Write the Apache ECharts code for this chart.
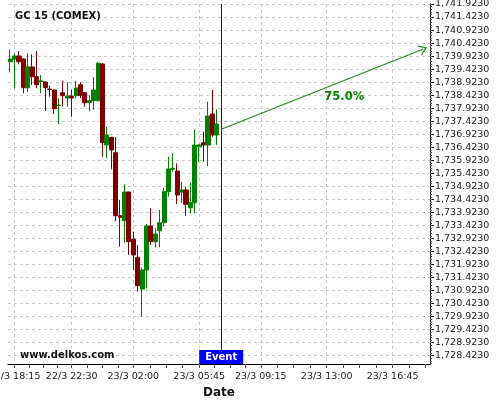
<!DOCTYPE html>
<html><head><meta charset="utf-8">
<script src="https://cdn.jsdelivr.net/npm/echarts@6/dist/echarts.min.js"></script>
<style>html,body{margin:0;padding:0;background:#fff}#c{width:500px;height:400px}</style>
</head><body><div id="c"></div>
<script>
// ---- data ----
const categories = [
'22/3 18:00','22/3 18:15','22/3 18:30','22/3 18:45','22/3 19:00','22/3 19:15','22/3 19:30','22/3 19:45',
'22/3 20:00','22/3 20:15','22/3 20:30','22/3 20:45','22/3 22:00','22/3 22:15','22/3 22:30','22/3 22:45',
'22/3 23:00','22/3 23:15','22/3 23:30','22/3 23:45','23/3 00:00','23/3 00:15','23/3 00:30','23/3 00:45',
'23/3 01:00','23/3 01:15','23/3 01:30','23/3 01:45','23/3 02:00','23/3 02:15','23/3 02:30','23/3 02:45',
'23/3 03:00','23/3 03:15','23/3 03:30','23/3 03:45','23/3 04:00','23/3 04:15','23/3 04:30','23/3 04:45',
'23/3 05:00','23/3 05:15','23/3 05:30','23/3 05:45','23/3 06:00','23/3 06:15','23/3 06:30','23/3 06:45',
'23/3 07:00','23/3 07:15','23/3 07:30','23/3 07:45','23/3 08:00','23/3 08:15','23/3 08:30','23/3 08:45',
'23/3 09:00','23/3 09:15','23/3 09:30','23/3 09:45','23/3 10:00','23/3 10:15','23/3 10:30','23/3 10:45',
'23/3 11:00','23/3 11:15','23/3 11:30','23/3 11:45','23/3 12:00','23/3 12:15','23/3 12:30','23/3 12:45',
'23/3 13:00','23/3 13:15','23/3 13:30','23/3 13:45','23/3 14:00','23/3 14:15','23/3 14:30','23/3 14:45',
'23/3 15:00','23/3 15:15','23/3 15:30','23/3 15:45','23/3 16:00','23/3 16:15','23/3 16:30','23/3 16:45',
'23/3 17:00','23/3 17:15','23/3 17:30','23/3 17:45','23/3 18:00','23/3 18:15','23/3 18:30','23/3 18:45'
];
// [open, close, low, high]
const candles = [
[1739.708,1739.812,1739.301,1740.184],
[1739.812,1739.927,1738.687,1740.030],
[1739.927,1739.708,1739.608,1740.119],
[1739.812,1738.710,1738.495,1739.850],
[1738.710,1739.510,1738.550,1740.030],
[1739.505,1739.132,1738.814,1739.992],
[1739.132,1738.825,1738.687,1740.119],
[1738.948,1738.967,1738.495,1739.197],
[1738.929,1738.710,1737.816,1738.940],
[1738.660,1738.641,1738.365,1738.787],
[1738.622,1737.904,1737.700,1738.640],
[1738.027,1738.046,1737.316,1738.303],
[1738.518,1738.403,1737.981,1738.979],
[1738.315,1738.391,1737.981,1738.917],
[1738.391,1738.315,1737.597,1738.622],
[1738.403,1738.698,1738.303,1738.979],
[1738.825,1738.418,1738.303,1738.917],
[1738.518,1738.134,1737.981,1738.530],
[1738.134,1738.211,1737.804,1738.418],
[1738.211,1738.622,1737.865,1739.121],
[1738.211,1739.647,1738.180,1739.708],
[1739.620,1736.600,1736.060,1739.660],
[1736.510,1736.894,1735.999,1737.213],
[1736.806,1736.318,1735.577,1736.820],
[1736.215,1733.796,1733.581,1736.806],
[1733.796,1733.735,1732.606,1734.399],
[1733.604,1734.706,1732.760,1735.001],
[1734.706,1732.798,1732.288,1734.720],
[1732.891,1732.288,1731.712,1733.182],
[1732.199,1731.109,1730.879,1732.670],
[1730.982,1731.712,1729.919,1731.800],
[1731.712,1733.401,1731.009,1733.478],
[1733.401,1732.798,1732.670,1734.080],
[1732.798,1733.094,1732.583,1733.312],
[1733.220,1733.528,1732.583,1734.015],
[1733.528,1734.718,1733.374,1734.860],
[1734.718,1735.588,1734.526,1736.061],
[1735.578,1735.616,1735.485,1736.190],
[1735.512,1734.591,1734.246,1735.808],
[1734.706,1734.783,1734.284,1735.100],
[1734.783,1734.234,1733.785,1734.910],
[1734.103,1734.295,1733.888,1735.063],
[1734.295,1736.510,1733.888,1737.113],
[1736.446,1736.510,1735.870,1736.550],
[1736.599,1736.510,1735.870,1737.021],
[1736.510,1737.624,1735.704,1738.173],
[1737.701,1736.894,1736.829,1738.622],
[1736.894,1737.316,1736.510,1737.881]
];
const xLabelIdx = [1,14,28,43,57,72,87];
const yTickLabels = [1728.423,1728.923,1729.423,1729.923,1730.423,1730.923,1731.423,1731.923,
1732.423,1732.923,1733.423,1733.923,1734.423,1734.923,1735.423,1735.923,1736.423,1736.923,
1737.423,1737.923,1738.423,1738.923,1739.423,1739.923,1740.423,1740.923,1741.423,1741.923];
const yMin = 1728.103, yMax = 1741.923;
const eventIdx = 48;
const eventBoxValue = 1728.372;
const forecastStart = [48, 1737.113];
const forecastEnd = [94, 1740.196];
const forecastText = '75.0%';
const forecastTextPos = [76, 1738.353];

// ---- decoration helpers (axis tick positions only) ----
const xMinor = [];
for (let i = 0; i < xLabelIdx.length - 1; i++) {
  const a = xLabelIdx[i], b = xLabelIdx[i+1];
  for (let k = 1; k < 4; k++) xMinor.push(a + (b - a) * k / 4);
}
xMinor.push(87 + 3.75, 87 + 7.5);
const yMinor = [];
for (let v = 1728.123; v <= yMax + 1e-6; v += 0.1) yMinor.push(+v.toFixed(3));

function fmt(v) {
  const s = Number(v).toFixed(4);
  const p = s.split('.');
  return p[0].replace(/\B(?=(\d{3})+(?!\d))/g, ',') + '.' + p[1];
}
const FF = 'DejaVu Sans';
const gridBox = {left: 8, right: 70, top: 4, bottom: 36, containLabel: false, outerBoundsMode: 'none'};
const dash = {color: '#c8c8c8', width: 1, type: [3, 3]};
const noZero = {show: false, onZero: false};

const chart = echarts.init(document.getElementById('c'), null, {renderer: 'canvas'});
chart.setOption({
  animation: false,
  backgroundColor: '#fff',
  title: [
    {text: 'GC 15 (COMEX)', left: 10, top: 6, textStyle: {fontFamily: FF, fontSize: 10, fontWeight: 'bold', color: '#111'}},
    {text: 'www.delkos.com', left: 15, top: 345, textStyle: {fontFamily: FF, fontSize: 10, fontWeight: 'bold', color: '#111'}}
  ],
  grid: [Object.assign({}, gridBox), Object.assign({}, gridBox), Object.assign({}, gridBox)],
  xAxis: [
    {type: 'category', gridIndex: 0, data: categories, boundaryGap: true,
     axisLine: {show: true, onZero: false, lineStyle: {color: '#000', width: 1}},
     axisTick: {show: false}, splitLine: {show: false},
     axisLabel: {show: true, interval: (i) => xLabelIdx.includes(i), margin: 8,
       fontFamily: FF, fontSize: 9.5, color: '#222'},
     name: 'Date', nameLocation: 'middle', nameGap: 18,
     nameTextStyle: {fontFamily: FF, fontSize: 12, fontWeight: 'bold', color: '#111'}},
    {type: 'value', gridIndex: 1, min: -0.5, max: categories.length - 0.5, position: 'bottom',
     axisLine: noZero, axisLabel: {show: false},
     axisTick: {show: true, customValues: xLabelIdx, length: 4, lineStyle: {color: '#555'}},
     splitLine: {show: true, lineStyle: dash}},
    {type: 'value', gridIndex: 2, min: -0.5, max: categories.length - 0.5, position: 'bottom',
     axisLine: noZero, axisLabel: {show: false},
     axisTick: {show: true, customValues: xMinor, length: 4, lineStyle: {color: '#555'}},
     splitLine: {show: false}}
  ],
  yAxis: [
    {type: 'value', gridIndex: 0, position: 'right', min: yMin, max: yMax, scale: true,
     axisLine: {show: true, onZero: false, lineStyle: {color: '#000', width: 1}},
     axisTick: {show: true, customValues: yTickLabels, length: 4, lineStyle: {color: '#000'}},
     axisLabel: {show: true, customValues: yTickLabels, margin: 5, formatter: fmt,
       fontFamily: FF, fontSize: 9.5, color: '#222'},
     splitLine: {show: true, lineStyle: dash}},
    {type: 'value', gridIndex: 1, position: 'right', min: yMin, max: yMax, scale: true,
     axisLine: noZero, axisLabel: {show: false},
     axisTick: {show: true, customValues: yMinor, length: 2, lineStyle: {color: '#555'}},
     splitLine: {show: false}},
    {type: 'value', gridIndex: 2, position: 'right', min: yMin, max: yMax, scale: true,
     axisLine: noZero, axisLabel: {show: false}, axisTick: {show: false}, splitLine: {show: false}}
  ],
  series: [{
    type: 'candlestick', xAxisIndex: 0, yAxisIndex: 0,
    data: candles,
    barWidth: 4.6,
    itemStyle: {color: '#008000', color0: '#800000', borderColor: '#008000', borderColor0: '#800000', borderWidth: 1},
    markLine: {
      silent: true, animation: false, symbol: ['none', 'none'],
      label: {show: false},
      data: [
        [{coord: [eventIdx, yMax], lineStyle: {color: '#0000ff', width: 1, type: 'solid'}},
         {coord: [eventIdx, eventBoxValue]}],
        [{coord: forecastStart, symbol: 'none', lineStyle: {color: '#1e8c1e', width: 1.2, type: 'solid'}},
         {coord: forecastEnd, symbol: 'path://M5,0 L10,9 L8.6,9 L5,2.6 L1.4,9 L0,9 Z', symbolSize: [11, 8]}]
      ]
    },
    markPoint: {
      silent: true, animation: false,
      data: [
        {coord: [eventIdx, eventBoxValue], symbol: 'rect', symbolSize: [44, 14],
         itemStyle: {color: '#0000ff'},
         label: {show: true, position: 'inside', formatter: 'Event', color: '#fff',
           fontFamily: FF, fontSize: 10, fontWeight: 'bold'}},
        {coord: forecastTextPos, symbol: 'rect', symbolSize: [1, 1],
         itemStyle: {color: 'rgba(0,0,0,0)'},
         label: {show: true, position: 'inside', formatter: forecastText, color: '#008000',
           fontFamily: FF, fontSize: 11.5, fontWeight: 'bold'}}
      ]
    }
  }]
});
</script></body></html>
